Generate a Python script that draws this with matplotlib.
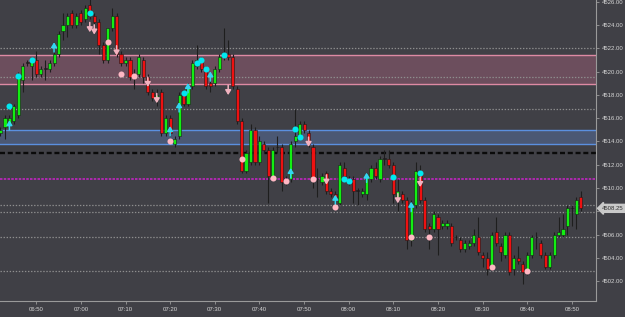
import numpy as np
import matplotlib.pyplot as plt

plt.rcParams['lines.scale_dashes'] = False
plt.rcParams['font.family'] = ['Liberation Sans', 'DejaVu Sans']

# 1-minute bars, first bar at 06:42 (x = minutes from 06:50)
first_bar = -8
opens = [4514.75, 4515.25, 4515.5, 4515.75, 4516.25, 4519.25, 4520.75, 4520.5,
         4521.0, 4519.75, 4520.25, 4520.25, 4520.75, 4521.5, 4523.5, 4524.0,
         4525.0, 4524.0, 4525.0, 4524.5, 4525.75, 4524.75, 4524.25, 4522.25,
         4521.0, 4523.75, 4524.75, 4521.5, 4520.75, 4521.0, 4519.75, 4519.75,
         4521.0, 4519.5, 4518.25, 4517.75, 4518.25, 4514.75, 4516.0, 4513.75,
         4514.5, 4518.0, 4517.25, 4518.75, 4520.5, 4521.0, 4520.25, 4519.0,
         4519.0, 4520.25, 4521.25, 4521.5, 4521.25, 4518.5, 4515.75, 4511.5,
         4512.25, 4515.0, 4512.25, 4513.75, 4513.25, 4511.0, 4513.5, 4513.5,
         4510.5, 4510.75, 4514.0, 4514.5, 4515.5, 4514.75, 4513.5, 4510.75,
         4510.5, 4511.25, 4509.75, 4509.5, 4508.75, 4511.75, 4510.75, 4510.75,
         4509.75, 4509.5, 4509.5, 4510.75, 4511.75, 4510.75, 4512.5, 4512.5,
         4512.0, 4509.25, 4509.5, 4509.0, 4505.5, 4508.5, 4511.25, 4509.0,
         4506.75, 4506.5, 4507.5, 4506.75, 4506.75, 4506.75, 4505.75, 4505.5,
         4504.75, 4505.0, 4505.25, 4505.75, 4504.25, 4504.0, 4503.25, 4506.25,
         4505.0, 4504.25, 4506.0, 4503.0, 4504.0, 4503.5, 4502.75, 4504.25,
         4505.75, 4505.25, 4504.25, 4503.25, 4504.25, 4506.0, 4506.0, 4506.75,
         4508.25, 4507.75, 4509.25]
highs = [4515.25, 4516.25, 4516.25, 4517.25, 4520.0, 4520.75, 4521.0, 4521.0,
         4521.75, 4520.5, 4521.0, 4521.0, 4522.0, 4523.5, 4525.0, 4525.0,
         4525.25, 4525.0, 4525.25, 4525.75, 4526.25, 4525.0, 4524.5, 4522.5,
         4523.75, 4525.5, 4525.0, 4521.75, 4521.25, 4521.25, 4520.25, 4521.5,
         4521.25, 4519.75, 4518.5, 4518.5, 4518.5, 4516.25, 4516.25, 4514.5,
         4518.25, 4518.25, 4519.0, 4521.0, 4522.25, 4521.25, 4520.5, 4519.25,
         4520.5, 4521.5, 4523.75, 4522.75, 4521.5, 4518.75, 4516.0, 4513.25,
         4515.5, 4515.25, 4514.5, 4514.0, 4513.5, 4513.5, 4514.5, 4513.75,
         4511.0, 4514.0, 4516.75, 4515.75, 4515.75, 4515.0, 4513.75, 4511.75,
         4511.25, 4511.5, 4510.0, 4509.75, 4512.25, 4512.25, 4511.0, 4511.0,
         4510.0, 4510.0, 4511.25, 4512.0, 4512.25, 4512.75, 4513.25, 4513.25,
         4512.25, 4510.75, 4509.75, 4509.25, 4509.0, 4512.25, 4512.0, 4509.25,
         4507.0, 4508.0, 4507.75, 4507.25, 4507.25, 4507.0, 4506.0, 4505.75,
         4505.5, 4505.5, 4506.5, 4507.5, 4504.5, 4504.5, 4506.25, 4507.5,
         4505.25, 4506.25, 4506.25, 4504.25, 4505.0, 4503.75, 4504.5, 4506.0,
         4506.25, 4505.5, 4504.5, 4504.5, 4506.25, 4507.5, 4507.75, 4508.5,
         4508.5, 4509.25, 4509.75]
lows = [4514.5, 4514.25, 4515.25, 4515.5, 4516.0, 4518.25, 4520.5, 4519.25,
        4519.5, 4519.5, 4519.25, 4520.0, 4520.5, 4521.25, 4522.75, 4523.0,
        4523.75, 4523.75, 4524.0, 4524.25, 4524.5, 4524.0, 4521.5, 4520.75,
        4520.75, 4523.5, 4521.25, 4520.5, 4520.5, 4519.25, 4518.5, 4519.5,
        4519.0, 4518.0, 4517.5, 4517.0, 4514.5, 4514.5, 4514.5, 4513.5,
        4514.25, 4517.0, 4517.0, 4518.5, 4520.25, 4520.0, 4518.5, 4518.25,
        4518.75, 4520.0, 4521.0, 4521.0, 4518.5, 4515.5, 4511.25, 4511.25,
        4512.0, 4512.0, 4512.0, 4513.0, 4508.75, 4510.75, 4513.0, 4509.75,
        4510.25, 4510.5, 4513.5, 4514.25, 4514.75, 4513.5, 4510.0, 4509.25,
        4510.25, 4509.5, 4509.25, 4508.5, 4508.5, 4510.75, 4510.25, 4508.75,
        4508.5, 4509.25, 4509.0, 4510.5, 4510.75, 4510.5, 4512.0, 4511.75,
        4508.75, 4508.0, 4508.75, 4504.75, 4505.0, 4508.25, 4508.75, 4506.25,
        4504.75, 4506.25, 4504.25, 4506.5, 4506.5, 4505.0, 4505.5, 4504.5,
        4504.5, 4504.75, 4505.0, 4504.25, 4503.25, 4502.5, 4503.0, 4505.0,
        4503.75, 4504.0, 4502.5, 4502.5, 4503.5, 4501.75, 4502.5, 4504.0,
        4504.75, 4504.0, 4503.0, 4503.0, 4504.0, 4505.75, 4505.75, 4506.0,
        4506.75, 4506.5, 4508.0]
closes = [4515.0, 4516.0, 4516.0, 4517.0, 4519.75, 4520.5, 4520.75, 4521.0,
          4519.75, 4520.25, 4520.25, 4520.75, 4521.5, 4523.25, 4524.0, 4524.75,
          4524.0, 4524.75, 4524.25, 4525.5, 4524.75, 4524.25, 4522.25, 4521.0,
          4523.75, 4524.75, 4521.5, 4520.75, 4521.0, 4519.5, 4519.5, 4521.25,
          4519.5, 4518.25, 4517.75, 4518.0, 4514.75, 4516.0, 4514.75, 4514.25,
          4518.0, 4517.25, 4518.75, 4520.75, 4521.0, 4520.25, 4518.75, 4518.75,
          4520.25, 4521.25, 4521.5, 4521.25, 4518.75, 4515.75, 4511.5, 4513.0,
          4515.0, 4512.25, 4514.0, 4513.25, 4511.0, 4513.25, 4513.5, 4510.5,
          4510.75, 4513.75, 4514.5, 4515.5, 4515.0, 4513.75, 4510.75, 4510.75,
          4511.0, 4509.75, 4509.5, 4509.25, 4512.0, 4511.0, 4510.5, 4509.75,
          4509.75, 4509.75, 4511.0, 4511.75, 4511.0, 4512.5, 4512.5, 4512.0,
          4509.5, 4509.75, 4509.0, 4505.5, 4508.75, 4511.5, 4509.0, 4506.5,
          4506.5, 4507.75, 4506.5, 4507.0, 4507.0, 4505.25, 4505.75, 4504.75,
          4505.25, 4505.25, 4506.0, 4504.5, 4504.0, 4503.0, 4506.0, 4505.25,
          4504.5, 4506.0, 4502.75, 4504.0, 4503.75, 4502.75, 4504.25, 4505.75,
          4505.75, 4504.25, 4503.25, 4504.25, 4506.0, 4506.25, 4506.5, 4508.25,
          4508.25, 4509.0, 4508.25]

# signal markers: (minute from 06:50, price)
cyan_dots = [(-6, 4517.0), (-4, 4519.6), (-1, 4521.0), (12, 4525.0), (33, 4518.15),
             (36, 4520.75), (37, 4521.0), (38, 4520.25), (42, 4521.4), (58, 4515.05),
             (59, 4514.4), (69, 4510.75), (70, 4510.6), (80, 4510.9), (86, 4511.3)]
pink_dots = [(16, 4522.5), (19, 4519.8), (22, 4519.6), (30, 4514.0), (46, 4512.5),
             (53, 4510.85), (56, 4510.6), (62, 4510.8), (67, 4508.4), (84, 4505.8),
             (88, 4505.8), (102, 4503.2), (110, 4502.85)]
up_arrows = [(-6, 4515.4), (4, 4522.1), (30, 4514.9), (32, 4516.95), (34, 4518.6),
             (39, 4519.6), (57, 4511.3), (67, 4509.0), (74, 4510.9), (84, 4508.4)]
down_arrows = [(12, 4523.8), (13, 4523.6), (18, 4521.8), (25, 4519.1), (27, 4517.7),
               (43, 4518.4), (61, 4513.95), (65, 4510.7), (81, 4509.1), (86, 4510.5)]

# levels
dotted_levels = [4522.0, 4519.5, 4516.75, 4508.5, 4507.9, 4505.75, 4502.85]
pink_zone = (4518.9, 4521.4)
blue_zone = (4513.75, 4515.0)
black_level = 4513.0
magenta_level = 4510.75
last_price = 4508.25

tick_minutes = [0, 10, 20, 30, 40, 50, 60, 70, 80, 90, 100, 110, 120]
tick_labels = ['06:50', '07:00', '07:10', '07:20', '07:30', '07:40', '07:50',
               '08:00', '08:10', '08:20', '08:30', '08:40', '08:50']
price_ticks = [4502, 4504, 4506, 4508, 4510, 4512, 4514, 4516, 4518, 4520,
               4522, 4524, 4526]

bg = '#404046'
fig = plt.figure(figsize=(6.25, 3.17), dpi=100, facecolor=bg)
ax = fig.add_axes([0, 0.0505, 0.953, 0.9495], facecolor=bg)

o = np.array(opens); h = np.array(highs); l = np.array(lows); c = np.array(closes)
x = first_bar + np.arange(len(o))

# zones and lines
ax.axhspan(*pink_zone, color='#6c4e5d', zorder=1, lw=0)
for v in pink_zone:
    ax.axhline(v, color='#de8aa4', lw=1.0, zorder=1.5)
ax.axhspan(*blue_zone, color='#4b5874', zorder=1, lw=0)
for v in blue_zone:
    ax.axhline(v, color='#5b90e0', lw=1.0, zorder=1.5)
for v in dotted_levels:
    ax.axhline(v, color='#8e8e8e', lw=0.9, ls=(0, (1.0, 1.2)), zorder=1.5)
ax.axhline(black_level, color='#0a0a0a', lw=1.7, ls=(0, (3.6, 2.0)), zorder=1.6)
ax.axhline(magenta_level, color='#cc22cc', lw=1.1, ls=(0, (1.8, 0.9)), zorder=1.6)

# candles
ax.vlines(x, l, h, color='#1e1e1e', lw=0.8, zorder=2)
colors = np.where(c > o, '#12ee12', np.where(c < o, '#ee1111', '#222222'))
body = np.maximum(np.abs(c - o), 0.06)
ax.bar(x, body, bottom=np.minimum(o, c), width=0.7, color=colors,
       edgecolor='#1a1a1a', linewidth=0.4, zorder=3)

# signals
for m, p in up_arrows:
    ax.annotate('', xy=(m, p + 0.42), xytext=(m, p - 0.42),
                arrowprops=dict(arrowstyle='-|>,head_width=0.17,head_length=0.28',
                                color='#33d6f0', lw=1.1, shrinkA=0, shrinkB=0),
                zorder=4)
for m, p in down_arrows:
    ax.annotate('', xy=(m, p - 0.42), xytext=(m, p + 0.42),
                arrowprops=dict(arrowstyle='-|>,head_width=0.17,head_length=0.28',
                                color='#f2b3c0', lw=1.1, shrinkA=0, shrinkB=0),
                zorder=4)
ax.scatter([m for m, p in cyan_dots], [p for m, p in cyan_dots], s=19,
           color='#00e8f0', zorder=5, lw=0)
ax.scatter([m for m, p in pink_dots], [p for m, p in pink_dots], s=19,
           color='#ffb8c4', zorder=5, lw=0)

ax.set_xlim(-8.11, 125.3)
ax.set_ylim(4500.29, 4526.15)

for s in ['top', 'left']:
    ax.spines[s].set_visible(False)
for s in ['right', 'bottom']:
    ax.spines[s].set_color('#9a9a9a')
    ax.spines[s].set_linewidth(0.8)

ax.yaxis.tick_right()
ax.set_yticks(price_ticks)
ax.set_yticklabels(['%.2f' % v for v in price_ticks])
ax.set_xticks(tick_minutes)
ax.set_xticklabels(tick_labels)
ax.tick_params(axis='both', colors='#9a9a9a', labelcolor='#d6d6d6',
               labelsize=4.3, length=2.2, width=0.6, pad=2)

ax.annotate('%.2f' % last_price, xy=(1.0, last_price),
            xycoords=('axes fraction', 'data'), xytext=(4.5, 0),
            textcoords='offset points', va='center', ha='left',
            fontsize=4.3, color='#303030',
            bbox=dict(boxstyle='larrow,pad=0.25', fc='#c9c9c9', ec='#c9c9c9'))

fig.savefig('out.png', dpi=100, facecolor=bg)
